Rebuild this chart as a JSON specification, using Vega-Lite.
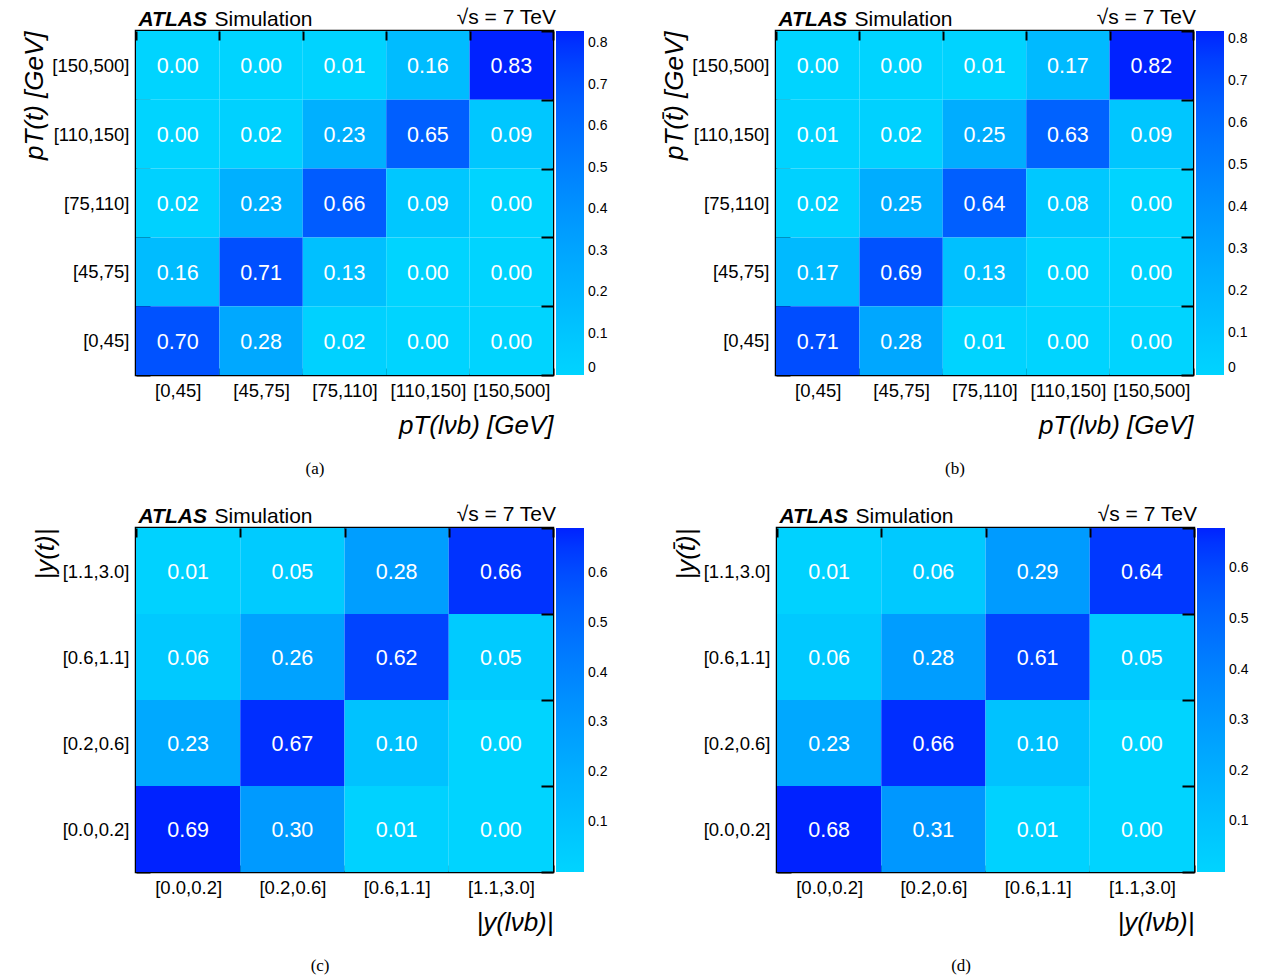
{
  "$schema": "https://vega.github.io/schema/vega-lite/v6.json",
  "padding": {"left": 20, "top": 5, "right": 5, "bottom": 0},
  "background": "white",
  "spacing": 24,
  "config": {
    "font": "Liberation Sans",
    "view": {"stroke": "black", "strokeWidth": 2.5},
    "axis": {"domain": false, "grid": false, "ticks": true, "zindex": 1, "tickColor": "black", "tickWidth": 2, "tickOpacity": 1, "labelColor": "black", "titleColor": "black", "labelFont": "Liberation Sans", "titleFont": "Liberation Sans"},
    "legend": {"labelFont": "Liberation Sans", "titleFont": "Liberation Sans"},
    "title": {"font": "Liberation Serif"}
  },
  "resolve": {"scale": {"x": "independent", "y": "independent", "color": "independent"}, "legend": {"color": "independent"}},
  "vconcat": [
    {
      "spacing": 50,
      "resolve": {"scale": {"x": "independent", "y": "independent", "color": "independent"}, "legend": {"color": "independent"}},
      "hconcat": [
        {
          "title": {"text": "(a)", "orient": "bottom", "anchor": "middle", "frame": "bounds", "fontSize": 17, "fontWeight": "normal", "offset": 22},
          "width": 417, "height": 344,
          "data": {"values": [
            {"x": "[0,45]", "y": "[150,500]", "v": 0.00}, {"x": "[45,75]", "y": "[150,500]", "v": 0.00}, {"x": "[75,110]", "y": "[150,500]", "v": 0.01}, {"x": "[110,150]", "y": "[150,500]", "v": 0.16}, {"x": "[150,500]", "y": "[150,500]", "v": 0.83},
            {"x": "[0,45]", "y": "[110,150]", "v": 0.00}, {"x": "[45,75]", "y": "[110,150]", "v": 0.02}, {"x": "[75,110]", "y": "[110,150]", "v": 0.23}, {"x": "[110,150]", "y": "[110,150]", "v": 0.65}, {"x": "[150,500]", "y": "[110,150]", "v": 0.09},
            {"x": "[0,45]", "y": "[75,110]", "v": 0.02}, {"x": "[45,75]", "y": "[75,110]", "v": 0.23}, {"x": "[75,110]", "y": "[75,110]", "v": 0.66}, {"x": "[110,150]", "y": "[75,110]", "v": 0.09}, {"x": "[150,500]", "y": "[75,110]", "v": 0.00},
            {"x": "[0,45]", "y": "[45,75]", "v": 0.16}, {"x": "[45,75]", "y": "[45,75]", "v": 0.71}, {"x": "[75,110]", "y": "[45,75]", "v": 0.13}, {"x": "[110,150]", "y": "[45,75]", "v": 0.00}, {"x": "[150,500]", "y": "[45,75]", "v": 0.00},
            {"x": "[0,45]", "y": "[0,45]", "v": 0.70}, {"x": "[45,75]", "y": "[0,45]", "v": 0.28}, {"x": "[75,110]", "y": "[0,45]", "v": 0.02}, {"x": "[110,150]", "y": "[0,45]", "v": 0.00}, {"x": "[150,500]", "y": "[0,45]", "v": 0.00}
          ]},
          "layer": [
            {
              "mark": {"type": "rect"},
              "encoding": {
                "x": {"field": "x", "type": "nominal", "scale": {"domain": ["[0,45]", "[45,75]", "[75,110]", "[110,150]", "[150,500]"], "paddingInner": 0, "paddingOuter": 0},
                  "axis": {"orient": "bottom", "title": "pT(lνb) [GeV]", "titleAnchor": "end", "titleFontSize": 26, "titleFontStyle": "italic", "titleFontWeight": "normal", "titlePadding": 13, "labelFontSize": 18.5, "labelAngle": 0, "tickBand": "extent", "tickSize": -7, "labelPadding": 13}},
                "y": {"field": "y", "type": "nominal", "scale": {"domain": ["[150,500]", "[110,150]", "[75,110]", "[45,75]", "[0,45]"], "paddingInner": 0, "paddingOuter": 0},
                  "axis": {"orient": "left", "title": "pT(t) [GeV]", "titleAnchor": "start", "titleAlign": "right", "titleFontSize": 26, "titleFontStyle": "italic", "titleFontWeight": "normal", "titlePadding": 4, "labelFontSize": 18.5, "tickBand": "extent", "tickSize": -14, "labelPadding": 21}},
                "color": {"field": "v", "type": "quantitative", "scale": {"domain": [0, 0.83], "range": ["#00d4ff", "#0022ff"], "nice": false, "clamp": true},
                  "legend": {"orient": "none", "legendX": 320, "legendY": -24, "direction": "vertical", "gradientLength": 344, "gradientThickness": 28, "gradientStrokeWidth": 0, "padding": 0, "title": "√s = 7 TeV", "titleOrient": "top", "titleAnchor": "start", "titleAlign": "right", "titleFontSize": 21, "titleFontWeight": "normal", "titlePadding": 3, "labelFontSize": 14, "labelOffset": 4, "labelOverlap": false, "values": [0, 0.1, 0.2, 0.3, 0.4, 0.5, 0.6, 0.7, 0.8], "format": ".1~f"}}
              }
            },
            {
              "mark": {"type": "text", "color": "white", "fontSize": 21.5, "font": "Liberation Sans", "dy": 2},
              "encoding": {
                "x": {"field": "x", "type": "nominal", "axis": {"orient": "top", "zindex": 2, "labels": false, "ticks": true, "tickColor": "black", "tickWidth": 2, "tickBand": "extent", "tickSize": -9, "title": "ATLAS", "titleX": 2, "titleY": -6, "titleAlign": "left", "titleBaseline": "alphabetic", "titleFontSize": 21, "titleFontWeight": "bold", "titleFontStyle": "italic"}},
                "y": {"field": "y", "type": "nominal", "axis": {"orient": "right", "zindex": 2, "labels": false, "ticks": true, "tickColor": "black", "tickWidth": 2, "tickBand": "extent", "tickSize": -12, "title": "Simulation", "titleAngle": 0, "titleX": -339, "titleY": -6, "titleAlign": "left", "titleBaseline": "alphabetic", "titleFontSize": 21, "titleFontWeight": "normal"}},
                "text": {"field": "v", "type": "quantitative", "format": ".2f"}
              }
            }
          ]
        },
        {
          "title": {"text": "(b)", "orient": "bottom", "anchor": "middle", "frame": "bounds", "fontSize": 17, "fontWeight": "normal", "offset": 22},
          "width": 417, "height": 344,
          "data": {"values": [
            {"x": "[0,45]", "y": "[150,500]", "v": 0.00}, {"x": "[45,75]", "y": "[150,500]", "v": 0.00}, {"x": "[75,110]", "y": "[150,500]", "v": 0.01}, {"x": "[110,150]", "y": "[150,500]", "v": 0.17}, {"x": "[150,500]", "y": "[150,500]", "v": 0.82},
            {"x": "[0,45]", "y": "[110,150]", "v": 0.01}, {"x": "[45,75]", "y": "[110,150]", "v": 0.02}, {"x": "[75,110]", "y": "[110,150]", "v": 0.25}, {"x": "[110,150]", "y": "[110,150]", "v": 0.63}, {"x": "[150,500]", "y": "[110,150]", "v": 0.09},
            {"x": "[0,45]", "y": "[75,110]", "v": 0.02}, {"x": "[45,75]", "y": "[75,110]", "v": 0.25}, {"x": "[75,110]", "y": "[75,110]", "v": 0.64}, {"x": "[110,150]", "y": "[75,110]", "v": 0.08}, {"x": "[150,500]", "y": "[75,110]", "v": 0.00},
            {"x": "[0,45]", "y": "[45,75]", "v": 0.17}, {"x": "[45,75]", "y": "[45,75]", "v": 0.69}, {"x": "[75,110]", "y": "[45,75]", "v": 0.13}, {"x": "[110,150]", "y": "[45,75]", "v": 0.00}, {"x": "[150,500]", "y": "[45,75]", "v": 0.00},
            {"x": "[0,45]", "y": "[0,45]", "v": 0.71}, {"x": "[45,75]", "y": "[0,45]", "v": 0.28}, {"x": "[75,110]", "y": "[0,45]", "v": 0.01}, {"x": "[110,150]", "y": "[0,45]", "v": 0.00}, {"x": "[150,500]", "y": "[0,45]", "v": 0.00}
          ]},
          "layer": [
            {
              "mark": {"type": "rect"},
              "encoding": {
                "x": {"field": "x", "type": "nominal", "scale": {"domain": ["[0,45]", "[45,75]", "[75,110]", "[110,150]", "[150,500]"], "paddingInner": 0, "paddingOuter": 0},
                  "axis": {"orient": "bottom", "title": "pT(lνb) [GeV]", "titleAnchor": "end", "titleFontSize": 26, "titleFontStyle": "italic", "titleFontWeight": "normal", "titlePadding": 13, "labelFontSize": 18.5, "labelAngle": 0, "tickBand": "extent", "tickSize": -7, "labelPadding": 13}},
                "y": {"field": "y", "type": "nominal", "scale": {"domain": ["[150,500]", "[110,150]", "[75,110]", "[45,75]", "[0,45]"], "paddingInner": 0, "paddingOuter": 0},
                  "axis": {"orient": "left", "title": "pT(t̄) [GeV]", "titleAnchor": "start", "titleAlign": "right", "titleFontSize": 26, "titleFontStyle": "italic", "titleFontWeight": "normal", "titlePadding": 4, "labelFontSize": 18.5, "tickBand": "extent", "tickSize": -14, "labelPadding": 21}},
                "color": {"field": "v", "type": "quantitative", "scale": {"domain": [0, 0.82], "range": ["#00d4ff", "#0022ff"], "nice": false, "clamp": true},
                  "legend": {"orient": "none", "legendX": 320, "legendY": -24, "direction": "vertical", "gradientLength": 344, "gradientThickness": 28, "gradientStrokeWidth": 0, "padding": 0, "title": "√s = 7 TeV", "titleOrient": "top", "titleAnchor": "start", "titleAlign": "right", "titleFontSize": 21, "titleFontWeight": "normal", "titlePadding": 3, "labelFontSize": 14, "labelOffset": 4, "labelOverlap": false, "values": [0, 0.1, 0.2, 0.3, 0.4, 0.5, 0.6, 0.7, 0.8], "format": ".1~f"}}
              }
            },
            {
              "mark": {"type": "text", "color": "white", "fontSize": 21.5, "font": "Liberation Sans", "dy": 2},
              "encoding": {
                "x": {"field": "x", "type": "nominal", "axis": {"orient": "top", "zindex": 2, "labels": false, "ticks": true, "tickColor": "black", "tickWidth": 2, "tickBand": "extent", "tickSize": -9, "title": "ATLAS", "titleX": 2, "titleY": -6, "titleAlign": "left", "titleBaseline": "alphabetic", "titleFontSize": 21, "titleFontWeight": "bold", "titleFontStyle": "italic"}},
                "y": {"field": "y", "type": "nominal", "axis": {"orient": "right", "zindex": 2, "labels": false, "ticks": true, "tickColor": "black", "tickWidth": 2, "tickBand": "extent", "tickSize": -12, "title": "Simulation", "titleAngle": 0, "titleX": -339, "titleY": -6, "titleAlign": "left", "titleBaseline": "alphabetic", "titleFontSize": 21, "titleFontWeight": "normal"}},
                "text": {"field": "v", "type": "quantitative", "format": ".2f"}
              }
            }
          ]
        }
      ]
    },
    {
      "spacing": 61,
      "resolve": {"scale": {"x": "independent", "y": "independent", "color": "independent"}, "legend": {"color": "independent"}},
      "hconcat": [
        {
          "title": {"text": "(c)", "orient": "bottom", "anchor": "middle", "frame": "bounds", "fontSize": 17, "fontWeight": "normal", "offset": 22},
          "width": 417, "height": 344,
          "data": {"values": [
            {"x": "[0.0,0.2]", "y": "[1.1,3.0]", "v": 0.01}, {"x": "[0.2,0.6]", "y": "[1.1,3.0]", "v": 0.05}, {"x": "[0.6,1.1]", "y": "[1.1,3.0]", "v": 0.28}, {"x": "[1.1,3.0]", "y": "[1.1,3.0]", "v": 0.66},
            {"x": "[0.0,0.2]", "y": "[0.6,1.1]", "v": 0.06}, {"x": "[0.2,0.6]", "y": "[0.6,1.1]", "v": 0.26}, {"x": "[0.6,1.1]", "y": "[0.6,1.1]", "v": 0.62}, {"x": "[1.1,3.0]", "y": "[0.6,1.1]", "v": 0.05},
            {"x": "[0.0,0.2]", "y": "[0.2,0.6]", "v": 0.23}, {"x": "[0.2,0.6]", "y": "[0.2,0.6]", "v": 0.67}, {"x": "[0.6,1.1]", "y": "[0.2,0.6]", "v": 0.10}, {"x": "[1.1,3.0]", "y": "[0.2,0.6]", "v": 0.00},
            {"x": "[0.0,0.2]", "y": "[0.0,0.2]", "v": 0.69}, {"x": "[0.2,0.6]", "y": "[0.0,0.2]", "v": 0.30}, {"x": "[0.6,1.1]", "y": "[0.0,0.2]", "v": 0.01}, {"x": "[1.1,3.0]", "y": "[0.0,0.2]", "v": 0.00}
          ]},
          "layer": [
            {
              "mark": {"type": "rect"},
              "encoding": {
                "x": {"field": "x", "type": "nominal", "scale": {"domain": ["[0.0,0.2]", "[0.2,0.6]", "[0.6,1.1]", "[1.1,3.0]"], "paddingInner": 0, "paddingOuter": 0},
                  "axis": {"orient": "bottom", "title": "|y(lνb)|", "titleAnchor": "end", "titleFontSize": 26, "titleFontStyle": "italic", "titleFontWeight": "normal", "titlePadding": 13, "labelFontSize": 18.5, "labelAngle": 0, "tickBand": "extent", "tickSize": -7, "labelPadding": 13}},
                "y": {"field": "y", "type": "nominal", "scale": {"domain": ["[1.1,3.0]", "[0.6,1.1]", "[0.2,0.6]", "[0.0,0.2]"], "paddingInner": 0, "paddingOuter": 0},
                  "axis": {"orient": "left", "title": "|y(t)|", "titleAnchor": "start", "titleAlign": "right", "titleFontSize": 26, "titleFontStyle": "italic", "titleFontWeight": "normal", "titlePadding": 4, "labelFontSize": 18.5, "tickBand": "extent", "tickSize": -14, "labelPadding": 21}},
                "color": {"field": "v", "type": "quantitative", "scale": {"domain": [0, 0.69], "range": ["#00d4ff", "#0022ff"], "nice": false, "clamp": true},
                  "legend": {"orient": "none", "legendX": 320, "legendY": -24, "direction": "vertical", "gradientLength": 344, "gradientThickness": 28, "gradientStrokeWidth": 0, "padding": 0, "title": "√s = 7 TeV", "titleOrient": "top", "titleAnchor": "start", "titleAlign": "right", "titleFontSize": 21, "titleFontWeight": "normal", "titlePadding": 3, "labelFontSize": 14, "labelOffset": 4, "labelOverlap": false, "values": [0.1, 0.2, 0.3, 0.4, 0.5, 0.6], "format": ".1~f"}}
              }
            },
            {
              "mark": {"type": "text", "color": "white", "fontSize": 21.5, "font": "Liberation Sans", "dy": 2},
              "encoding": {
                "x": {"field": "x", "type": "nominal", "axis": {"orient": "top", "zindex": 2, "labels": false, "ticks": true, "tickColor": "black", "tickWidth": 2, "tickBand": "extent", "tickSize": -9, "title": "ATLAS", "titleX": 2, "titleY": -6, "titleAlign": "left", "titleBaseline": "alphabetic", "titleFontSize": 21, "titleFontWeight": "bold", "titleFontStyle": "italic"}},
                "y": {"field": "y", "type": "nominal", "axis": {"orient": "right", "zindex": 2, "labels": false, "ticks": true, "tickColor": "black", "tickWidth": 2, "tickBand": "extent", "tickSize": -12, "title": "Simulation", "titleAngle": 0, "titleX": -339, "titleY": -6, "titleAlign": "left", "titleBaseline": "alphabetic", "titleFontSize": 21, "titleFontWeight": "normal"}},
                "text": {"field": "v", "type": "quantitative", "format": ".2f"}
              }
            }
          ]
        },
        {
          "title": {"text": "(d)", "orient": "bottom", "anchor": "middle", "frame": "bounds", "fontSize": 17, "fontWeight": "normal", "offset": 22},
          "width": 417, "height": 344,
          "data": {"values": [
            {"x": "[0.0,0.2]", "y": "[1.1,3.0]", "v": 0.01}, {"x": "[0.2,0.6]", "y": "[1.1,3.0]", "v": 0.06}, {"x": "[0.6,1.1]", "y": "[1.1,3.0]", "v": 0.29}, {"x": "[1.1,3.0]", "y": "[1.1,3.0]", "v": 0.64},
            {"x": "[0.0,0.2]", "y": "[0.6,1.1]", "v": 0.06}, {"x": "[0.2,0.6]", "y": "[0.6,1.1]", "v": 0.28}, {"x": "[0.6,1.1]", "y": "[0.6,1.1]", "v": 0.61}, {"x": "[1.1,3.0]", "y": "[0.6,1.1]", "v": 0.05},
            {"x": "[0.0,0.2]", "y": "[0.2,0.6]", "v": 0.23}, {"x": "[0.2,0.6]", "y": "[0.2,0.6]", "v": 0.66}, {"x": "[0.6,1.1]", "y": "[0.2,0.6]", "v": 0.10}, {"x": "[1.1,3.0]", "y": "[0.2,0.6]", "v": 0.00},
            {"x": "[0.0,0.2]", "y": "[0.0,0.2]", "v": 0.68}, {"x": "[0.2,0.6]", "y": "[0.0,0.2]", "v": 0.31}, {"x": "[0.6,1.1]", "y": "[0.0,0.2]", "v": 0.01}, {"x": "[1.1,3.0]", "y": "[0.0,0.2]", "v": 0.00}
          ]},
          "layer": [
            {
              "mark": {"type": "rect"},
              "encoding": {
                "x": {"field": "x", "type": "nominal", "scale": {"domain": ["[0.0,0.2]", "[0.2,0.6]", "[0.6,1.1]", "[1.1,3.0]"], "paddingInner": 0, "paddingOuter": 0},
                  "axis": {"orient": "bottom", "title": "|y(lνb)|", "titleAnchor": "end", "titleFontSize": 26, "titleFontStyle": "italic", "titleFontWeight": "normal", "titlePadding": 13, "labelFontSize": 18.5, "labelAngle": 0, "tickBand": "extent", "tickSize": -7, "labelPadding": 13}},
                "y": {"field": "y", "type": "nominal", "scale": {"domain": ["[1.1,3.0]", "[0.6,1.1]", "[0.2,0.6]", "[0.0,0.2]"], "paddingInner": 0, "paddingOuter": 0},
                  "axis": {"orient": "left", "title": "|y(t̄)|", "titleAnchor": "start", "titleAlign": "right", "titleFontSize": 26, "titleFontStyle": "italic", "titleFontWeight": "normal", "titlePadding": 4, "labelFontSize": 18.5, "tickBand": "extent", "tickSize": -14, "labelPadding": 21}},
                "color": {"field": "v", "type": "quantitative", "scale": {"domain": [0, 0.68], "range": ["#00d4ff", "#0022ff"], "nice": false, "clamp": true},
                  "legend": {"orient": "none", "legendX": 320, "legendY": -24, "direction": "vertical", "gradientLength": 344, "gradientThickness": 28, "gradientStrokeWidth": 0, "padding": 0, "title": "√s = 7 TeV", "titleOrient": "top", "titleAnchor": "start", "titleAlign": "right", "titleFontSize": 21, "titleFontWeight": "normal", "titlePadding": 3, "labelFontSize": 14, "labelOffset": 4, "labelOverlap": false, "values": [0.1, 0.2, 0.3, 0.4, 0.5, 0.6], "format": ".1~f"}}
              }
            },
            {
              "mark": {"type": "text", "color": "white", "fontSize": 21.5, "font": "Liberation Sans", "dy": 2},
              "encoding": {
                "x": {"field": "x", "type": "nominal", "axis": {"orient": "top", "zindex": 2, "labels": false, "ticks": true, "tickColor": "black", "tickWidth": 2, "tickBand": "extent", "tickSize": -9, "title": "ATLAS", "titleX": 2, "titleY": -6, "titleAlign": "left", "titleBaseline": "alphabetic", "titleFontSize": 21, "titleFontWeight": "bold", "titleFontStyle": "italic"}},
                "y": {"field": "y", "type": "nominal", "axis": {"orient": "right", "zindex": 2, "labels": false, "ticks": true, "tickColor": "black", "tickWidth": 2, "tickBand": "extent", "tickSize": -12, "title": "Simulation", "titleAngle": 0, "titleX": -339, "titleY": -6, "titleAlign": "left", "titleBaseline": "alphabetic", "titleFontSize": 21, "titleFontWeight": "normal"}},
                "text": {"field": "v", "type": "quantitative", "format": ".2f"}
              }
            }
          ]
        }
      ]
    }
  ]
}
